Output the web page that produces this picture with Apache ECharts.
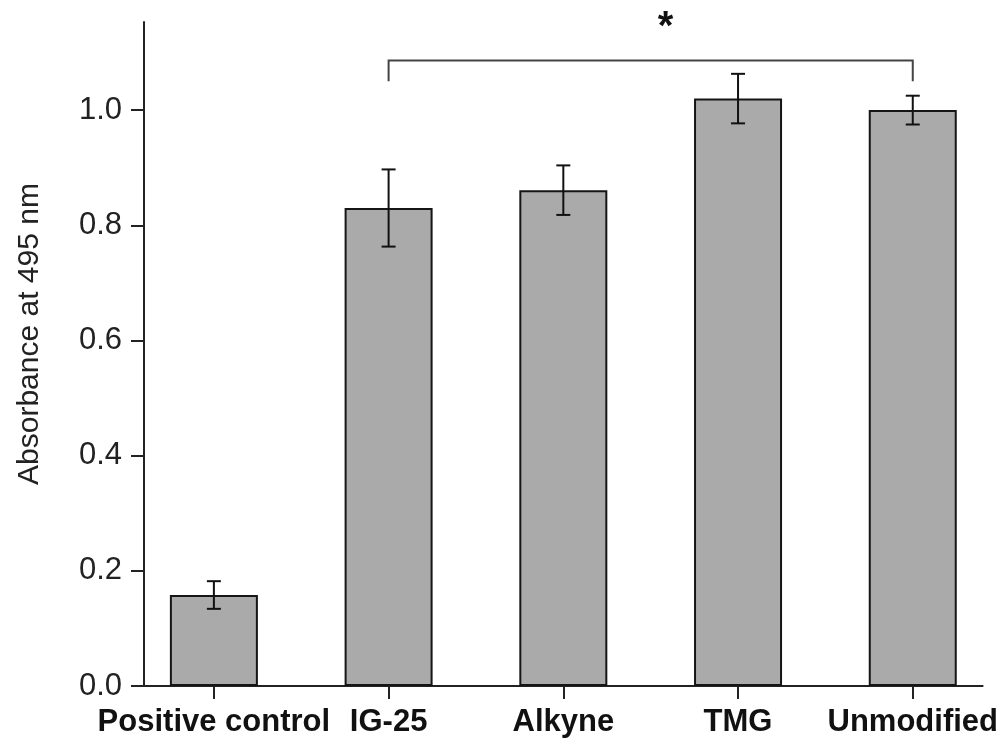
<!DOCTYPE html>
<html>
<head>
<meta charset="utf-8">
<script src="https://cdn.jsdelivr.net/npm/echarts@6/dist/echarts.min.js"></script>
<style>
html,body{margin:0;padding:0;background:#fff;}
#chart{width:1001px;height:746px;}
</style>
</head>
<body>
<div id="chart"></div>
<script>
// ---- data ----
var categories = ['Positive control', 'IG-25', 'Alkyne', 'TMG', 'Unmodified'];
var positions = [1, 2, 3, 4, 5];
var means = [0.158, 0.830, 0.861, 1.020, 1.000];
var errors = [0.024, 0.067, 0.043, 0.043, 0.025];
var yTicks = [0, 0.2, 0.4, 0.6, 0.8, 1.0];
var yTitle = 'Absorbance at 495 nm';
// significance bracket: [from position, to position, bracket level, leg end]
var bracket = [2, 5, 1.086, 1.050];
var sigMark = '*';
var sigPos = [3.585, 1.142];

var barData = positions.map(function (p, i) { return [p, means[i]]; });
var errData = positions.map(function (p, i) { return [p, means[i], errors[i]]; });

var chart = echarts.init(document.getElementById('chart'), null, {renderer: 'canvas'});
var FONT = '"Liberation Sans", Arial, Helvetica, sans-serif';
var AX = '#222222';

var option = {
  backgroundColor: '#ffffff',
  animation: false,
  grid: {left: 144, right: 16, top: 22, bottom: 60, containLabel: false},
  xAxis: {
    type: 'value',
    min: 0.6,
    max: 5.4,
    splitLine: {show: false},
    axisLine: {show: true, onZero: false, lineStyle: {color: AX, width: 2}},
    axisTick: {show: true, customValues: positions, length: 13, lineStyle: {color: AX, width: 2}},
    axisLabel: {
      show: true,
      customValues: positions,
      margin: 21,
      color: '#111',
      fontFamily: FONT,
      fontWeight: 'bold',
      fontSize: 31,
      formatter: function (v) { return categories[Math.round(v) - 1] || ''; }
    }
  },
  yAxis: {
    type: 'value',
    min: 0,
    max: 1.153,
    interval: 0.2,
    splitLine: {show: false},
    axisLine: {show: true, lineStyle: {color: AX, width: 2}},
    axisTick: {show: true, customValues: yTicks, length: 13, lineStyle: {color: AX, width: 2}},
    axisLabel: {
      show: true,
      customValues: yTicks,
      margin: 22,
      color: '#222',
      fontFamily: FONT,
      fontSize: 31,
      formatter: function (v) { return v.toFixed(1); }
    },
    name: yTitle,
    nameLocation: 'middle',
    nameGap: 99,
    nameMoveOverlap: false,
    nameTextStyle: {color: '#222', fontFamily: FONT, fontSize: 30, padding: [0, 0, 0, 40]}
  },
  series: [
    {
      type: 'bar',
      data: barData,
      barWidth: 88,
      itemStyle: {color: '#aaaaaa', borderColor: '#151515', borderWidth: 2},
      z: 2
    },
    {
      type: 'custom',
      data: errData,
      encode: {x: 0, y: 1},
      z: 5,
      renderItem: function (params, api) {
        var x = api.value(0), m = api.value(1), e = api.value(2);
        var top = api.coord([x, m + e]);
        var bot = api.coord([x, m - e]);
        var cap = 7;
        var st = {stroke: '#111', lineWidth: 2};
        return {
          type: 'group',
          children: [
            {type: 'line', shape: {x1: top[0], y1: top[1], x2: bot[0], y2: bot[1]}, style: st},
            {type: 'line', shape: {x1: top[0] - cap, y1: top[1], x2: top[0] + cap, y2: top[1]}, style: st},
            {type: 'line', shape: {x1: bot[0] - cap, y1: bot[1], x2: bot[0] + cap, y2: bot[1]}, style: st}
          ]
        };
      }
    },
    {
      type: 'custom',
      data: [bracket],
      encode: {x: [0, 1], y: [2, 3]},
      z: 5,
      renderItem: function (params, api) {
        var x1 = api.value(0), x2 = api.value(1), lv = api.value(2), leg = api.value(3);
        var a = api.coord([x1, leg]);
        var b = api.coord([x1, lv]);
        var c = api.coord([x2, lv]);
        var d = api.coord([x2, leg]);
        return {
          type: 'polyline',
          shape: {points: [a, b, c, d]},
          style: {stroke: '#444444', lineWidth: 2, fill: null}
        };
      }
    },
    {
      type: 'custom',
      data: [sigPos],
      encode: {x: 0, y: 1},
      z: 6,
      renderItem: function (params, api) {
        var p = api.coord([api.value(0), api.value(1)]);
        return {
          type: 'text',
          x: p[0],
          y: p[1],
          style: {
            text: sigMark,
            fill: '#111',
            font: 'bold 40px ' + FONT,
            align: 'center',
            verticalAlign: 'middle'
          }
        };
      }
    }
  ]
};
chart.setOption(option);
</script>
</body>
</html>
